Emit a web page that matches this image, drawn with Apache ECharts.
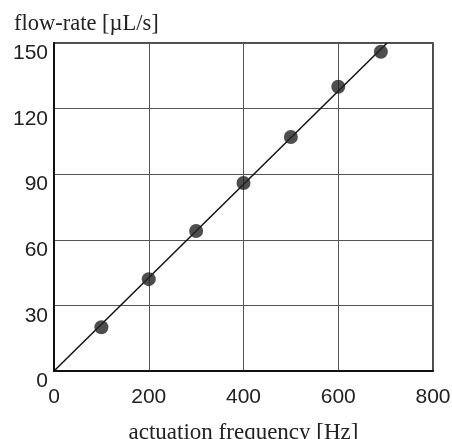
<!DOCTYPE html>
<html><head><meta charset="utf-8">
<script src="https://cdn.jsdelivr.net/npm/echarts@6/dist/echarts.min.js"></script>
<style>html,body{margin:0;padding:0;background:#fff}#c{width:452px;height:439px}</style>
</head><body><div id="c"></div>
<script>
const freq = [100, 200, 300, 400, 500, 600, 690];
const flow = [20, 42, 64, 86, 107, 130, 146];
const fitFreq = [0, 703];
const fitFlow = [0, 150];
const xTitle = 'actuation frequency [Hz]';
const yTitle = 'flow-rate [\u00b5L/s]';

const chart = echarts.init(document.getElementById('c'), null, {renderer: 'canvas'});
chart.setOption({
  animation: false,
  backgroundColor: '#fff',
  title: {
    text: yTitle, left: 9, top: 8,
    textStyle: {fontFamily: 'Liberation Serif', fontSize: 22.5, fontWeight: 'normal', color: '#222'}
  },
  grid: {left: 54, right: 19, top: 43, bottom: 68, show: true, borderColor: '#111', borderWidth: 1.5,
         containLabel: false, outerBoundsMode: 'none'},
  xAxis: {
    type: 'value', min: 0, max: 800, interval: 200,
    name: xTitle, nameLocation: 'middle', nameGap: 50,
    nameTextStyle: {fontFamily: 'Liberation Serif', fontSize: 23, color: '#222'},
    axisLine: {show: true, onZero: false, lineStyle: {color: '#111', width: 2}},
    axisTick: {show: false},
    axisLabel: {fontFamily: 'Liberation Sans', fontSize: 21, color: '#222', margin: 16},
    splitLine: {show: true, lineStyle: {color: '#555', width: 1}}
  },
  yAxis: {
    type: 'value', min: 0, max: 150, interval: 30,
    axisLine: {show: true, onZero: false, lineStyle: {color: '#111', width: 2}},
    axisTick: {show: false},
    axisLabel: {fontFamily: 'Liberation Sans', fontSize: 21, color: '#222', margin: 6, verticalAlign: 'top'},
    splitLine: {show: true, lineStyle: {color: '#555', width: 1}}
  },
  series: [
    {
      type: 'line', data: fitFreq.map((f, i) => [f, fitFlow[i]]),
      symbol: 'none', lineStyle: {color: '#111', width: 1.5}, z: 2
    },
    {
      type: 'scatter', data: freq.map((f, i) => [f, flow[i]]),
      symbol: 'circle', symbolSize: 14, itemStyle: {color: '#222'}, z: 3
    }
  ]
});
</script></body></html>
